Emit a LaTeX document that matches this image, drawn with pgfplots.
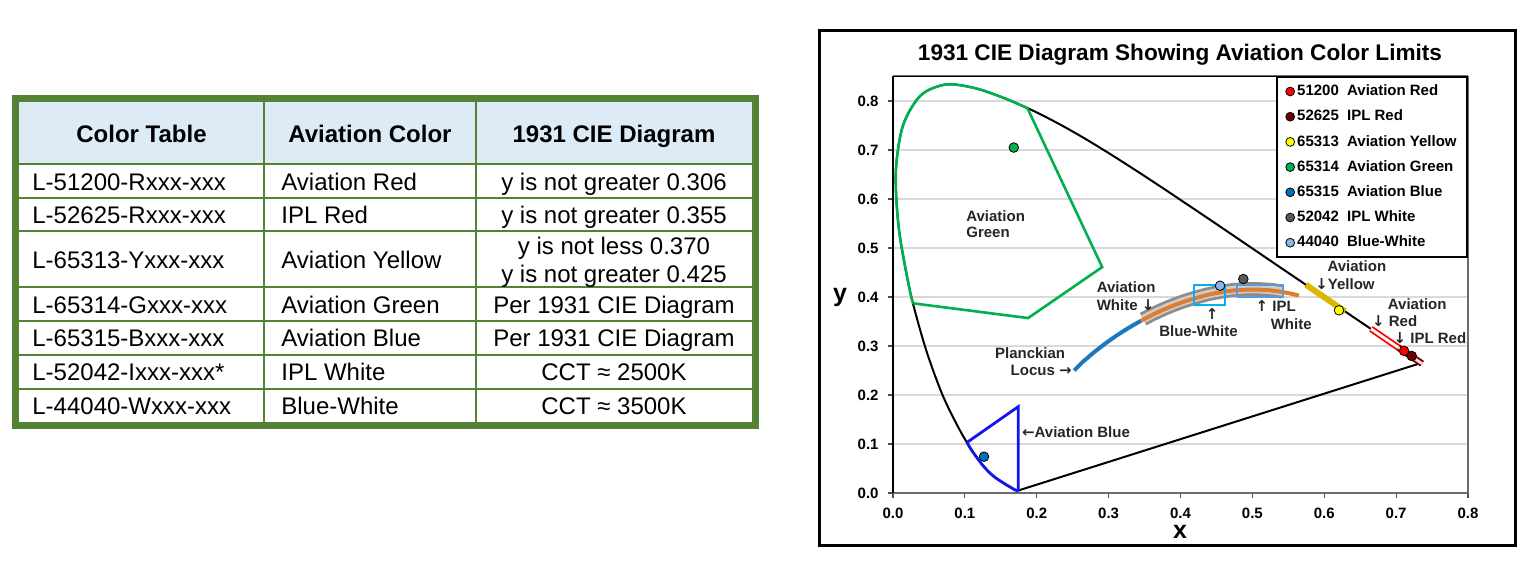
\documentclass[border=0pt]{standalone}
\usepackage{fontspec}
\setmainfont{Liberation Sans}
\newfontfamily\arrowfont{DejaVu Sans}
\usepackage{pgfplots}
\pgfplotsset{compat=1.18}

\definecolor{tblgreen}{RGB}{84,130,53}
\definecolor{hdrblue}{RGB}{221,235,247}
\definecolor{avgreen}{RGB}{0,176,80}
\definecolor{avblue}{RGB}{20,20,240}
\definecolor{plblue}{RGB}{30,120,190}
\definecolor{plorange}{RGB}{222,125,48}
\definecolor{avyellow}{RGB}{218,183,0}
\definecolor{bwcyan}{RGB}{0,176,240}
\definecolor{iplbox}{RGB}{91,155,213}
\definecolor{dotred}{RGB}{255,0,0}
\definecolor{dotiplred}{RGB}{110,0,0}
\definecolor{dotyellow}{RGB}{255,255,0}
\definecolor{dotgreen}{RGB}{0,176,80}
\definecolor{dotblue}{RGB}{0,112,192}
\definecolor{dotiplw}{RGB}{89,89,89}
\definecolor{dotbw}{RGB}{142,180,227}
\definecolor{gridgray}{RGB}{217,217,217}
\definecolor{bandgray}{RGB}{140,140,140}
\definecolor{bandlight}{RGB}{205,205,205}

\newcommand{\annf}{\bfseries\fontsize{7.5}{9}\selectfont}
\newcommand{\ar}[1]{{\arrowfont\bfseries #1}}
\tikzset{ann/.style={font=\annf, inner sep=0pt, text height=5.4pt, text depth=0pt, text=black!85}}

\begin{document}
\begin{tikzpicture}
\useasboundingbox (0pt,0pt) rectangle (767.5pt,283.5pt);

% table, in pixel units of the reference
\begin{scope}[x=0.5pt,y=-0.5pt,shift={(0pt,283.5pt)},font=\fontsize{12}{14}\selectfont]
  \fill[hdrblue] (19,102) rectangle (752,164);
  \foreach \yy in {164,198,231,287,321,355,389}
    \draw[tblgreen,line width=0.9pt] (19,\yy) -- (752,\yy);
  \foreach \xx in {264,476}
    \draw[tblgreen,line width=0.9pt] (\xx,102) -- (\xx,422);
  \draw[tblgreen,line width=3.5pt] (15.5,98.5) rectangle (755.5,425.5);
  \begin{scope}[every node/.style={inner sep=0pt, text height=8.6pt, text depth=0pt}]
    \node[font=\bfseries\fontsize{12}{14}\selectfont] at (141.5,134) {Color Table};
    \node[font=\bfseries\fontsize{12}{14}\selectfont] at (370,134) {Aviation Color};
    \node[font=\bfseries\fontsize{12}{14}\selectfont] at (614,134) {1931 CIE Diagram};
    \node[anchor=west] at (32,181.5) {L-51200-Rxxx-xxx};
    \node[anchor=west] at (281,181.5) {Aviation Red};
    \node at (614,181.5) {y is not greater 0.306};
    \node[anchor=west] at (32,215) {L-52625-Rxxx-xxx};
    \node[anchor=west] at (281,215) {IPL Red};
    \node at (614,215) {y is not greater 0.355};
    \node[anchor=west] at (32,260) {L-65313-Yxxx-xxx};
    \node[anchor=west] at (281,260) {Aviation Yellow};
    \node at (614,246) {y is not less 0.370};
    \node at (614,274) {y is not greater 0.425};
    \node[anchor=west] at (32,305) {L-65314-Gxxx-xxx};
    \node[anchor=west] at (281,305) {Aviation Green};
    \node at (614,305) {Per 1931 CIE Diagram};
    \node[anchor=west] at (32,338) {L-65315-Bxxx-xxx};
    \node[anchor=west] at (281,338) {Aviation Blue};
    \node at (614,338) {Per 1931 CIE Diagram};
    \node[anchor=west] at (32,372) {L-52042-Ixxx-xxx*};
    \node[anchor=west] at (281,372) {IPL White};
    \node at (614,372) {CCT ≈ 2500K};
    \node[anchor=west] at (32,405.5) {L-44040-Wxxx-xxx};
    \node[anchor=west] at (281,405.5) {Blue-White};
    \node at (614,405.5) {CCT ≈ 3500K};
  \end{scope}
\end{scope}

% chart frame, title and axis labels
\draw[line width=1.5pt] (409.75pt,10.75pt) rectangle (757.75pt,268.25pt);
\node[font=\bfseries\fontsize{11.3}{13}\selectfont] at (590pt,256pt) {1931 CIE Diagram Showing Aviation Color Limits};
\node[font=\bfseries\fontsize{12.5}{14}\selectfont] at (590pt,17.5pt) {x};
\node[font=\bfseries\fontsize{12.5}{14}\selectfont] at (420pt,135pt) {y};

\begin{axis}[
  scale only axis, width=287.5pt, height=208.25pt,
  at={(446.5pt,37pt)}, anchor=south west,
  xmin=0, xmax=0.8, ymin=0, ymax=0.85,
  xtick={0,0.1,0.2,0.3,0.4,0.5,0.6,0.7,0.8},
  ytick={0,0.1,0.2,0.3,0.4,0.5,0.6,0.7,0.8},
  ymajorgrids, major grid style={gridgray, line width=0.7pt},
  separate axis lines,
  x axis line style={draw=gray!85!black, line width=1pt},
  y axis line style={draw=black, line width=0.8pt},
  tick align=outside, major tick length=2.5pt,
  xtick pos=left, ytick pos=left,
  tick style={gray!60!black, line width=0.6pt},
  tick label style={font=\bfseries\fontsize{7.5}{9}\selectfont,
    /pgf/number format/fixed, /pgf/number format/fixed zerofill,
    /pgf/number format/precision=1, /pgf/number format/assume math mode=true},
  yticklabel style={xshift=-1.2pt},
  xticklabel style={yshift=-1.5pt},
  clip=false,
  legend style={at={(1,1)}, anchor=north east, draw=black, line width=0.8pt, fill=white,
    font=\bfseries\fontsize{7.5}{8.5}\selectfont, row sep=4.4pt, inner xsep=4.5pt, inner ysep=3pt,
    nodes={inner sep=0.8pt, text height=5.4pt, text depth=1.2pt}, column sep=0.5pt},
  legend cell align=left,
  legend image code/.code={\draw[#1, mark size=2.2pt, line width=0.4pt] plot coordinates {(0.07cm,0cm)};},
]
% top and right edges of the plot area
\draw[black, line width=0.8pt] (rel axis cs:0,1) -- (rel axis cs:1,1);
\draw[gray!85!black, line width=1pt] (rel axis cs:1,0) -- (rel axis cs:1,1);

% spectral locus
\addplot[black, line width=1pt, smooth, forget plot] coordinates {
(0.1741,0.0050) (0.1689,0.0069) (0.1644,0.0109) (0.1566,0.0177) (0.1440,0.0297)
(0.1355,0.0399) (0.1241,0.0578) (0.1096,0.0868) (0.0913,0.1327) (0.0687,0.2007)
(0.0454,0.2950) (0.0235,0.4127) (0.0082,0.5384) (0.0039,0.6548) (0.0139,0.7502)
(0.0389,0.8120) (0.0743,0.8338) (0.1142,0.8262) (0.1547,0.8059) (0.1929,0.7816)
(0.2296,0.7543) (0.2658,0.7243) (0.3016,0.6923) (0.3373,0.6589) (0.3731,0.6245)
(0.4087,0.5896) (0.4441,0.5547) (0.4788,0.5202) (0.5125,0.4866) (0.5448,0.4544)
(0.5752,0.4242) (0.6029,0.3965) (0.6270,0.3725) (0.6482,0.3514) (0.6658,0.3340)
(0.6915,0.3083) (0.7079,0.2920) (0.7190,0.2809) (0.7260,0.2740) (0.7347,0.2653)};
\addplot[black, line width=1pt, forget plot] coordinates {(0.7347,0.2653) (0.1741,0.0050)};

% aviation green
\addplot[avgreen, line width=1.3pt, forget plot] coordinates {
(0.0283,0.387) (0.188,0.357) (0.291,0.461) (0.187,0.7854)};
\addplot[avgreen, line width=1.3pt, smooth, forget plot] coordinates {
(0.187,0.7854) (0.1547,0.8059) (0.1142,0.8262) (0.0743,0.8338) (0.0389,0.8120)
(0.0139,0.7502) (0.0039,0.6548) (0.0082,0.5384) (0.0235,0.4127) (0.0283,0.387)};

% aviation blue
\addplot[avblue, line width=1.4pt, forget plot] coordinates {
(0.1030,0.1033) (0.1741,0.176) (0.1741,0.003)};
\addplot[avblue, line width=1.4pt, smooth, forget plot] coordinates {
(0.1741,0.0040) (0.1689,0.0069) (0.1644,0.0109) (0.1566,0.0177) (0.1440,0.0297)
(0.1355,0.0399) (0.1241,0.0578) (0.1096,0.0868) (0.1030,0.1033)};

% aviation white band
\addplot[bandgray, line width=7pt, smooth, forget plot] coordinates {
(0.348,0.3548) (0.3608,0.3646) (0.3805,0.3778) (0.4053,0.3917) (0.4369,0.4051)
(0.4599,0.4116) (0.4770,0.4147) (0.5018,0.4163) (0.5267,0.4143) (0.542,0.4108)};
\addplot[bandlight, line width=4.2pt, smooth, forget plot] coordinates {
(0.348,0.3548) (0.3608,0.3646) (0.3805,0.3778) (0.4053,0.3917) (0.4369,0.4051)
(0.4599,0.4116) (0.4770,0.4147) (0.5018,0.4163) (0.5267,0.4143) (0.542,0.4108)};

% planckian locus
\addplot[plblue, line width=2pt, smooth, forget plot] coordinates {
(0.252,0.250) (0.2637,0.2671) (0.2715,0.2770) (0.2807,0.2884) (0.2952,0.3048)
(0.3064,0.3166) (0.3135,0.3236) (0.3221,0.3318) (0.3324,0.3410) (0.3451,0.3516)};
\addplot[plorange, line width=2pt, smooth, forget plot] coordinates {
(0.3451,0.3516) (0.3608,0.3636) (0.3805,0.3768) (0.4053,0.3907) (0.4369,0.4041)
(0.4599,0.4106) (0.4770,0.4137) (0.5018,0.4153) (0.5267,0.4133) (0.5494,0.4081)
(0.5646,0.4029)};

% blue-white and IPL white boxes
\addplot[bwcyan, line width=1.2pt, forget plot] coordinates {
(0.419,0.384) (0.462,0.384) (0.462,0.425) (0.419,0.425) (0.419,0.384)};
\addplot[iplbox, line width=1pt, forget plot] coordinates {
(0.478,0.400) (0.542,0.400) (0.542,0.425) (0.478,0.425) (0.478,0.400)};

% aviation yellow and red along the locus
\addplot[avyellow, line width=3pt, forget plot] coordinates {
(0.5745,0.4250) (0.6029,0.3965) (0.6290,0.3705)};
\addplot[red, line width=3.2pt, forget plot] coordinates {
(0.6650,0.3350) (0.6915,0.3083) (0.7079,0.2920) (0.7190,0.2809) (0.7260,0.2740) (0.7360,0.2640)};
\addplot[white, line width=1.4pt, forget plot] coordinates {
(0.6650,0.3350) (0.6915,0.3083) (0.7079,0.2920) (0.7190,0.2809) (0.7260,0.2740) (0.7360,0.2640)};
\addplot[dotiplred, line width=3.2pt, forget plot] coordinates {
(0.7030,0.2969) (0.7190,0.2809) (0.7260,0.2740) (0.7360,0.2640)};
\addplot[white!85!red, line width=1.4pt, forget plot] coordinates {
(0.7030,0.2969) (0.7190,0.2809) (0.7260,0.2740) (0.7360,0.2640)};

% annotations
\node[ann, anchor=west] at (axis cs:0.1015,0.565) {Aviation};
\node[ann, anchor=west] at (axis cs:0.1015,0.532) {Green};
\node[ann, anchor=west] at (axis cs:0.283,0.4195) {Aviation};
\node[ann, anchor=west] at (axis cs:0.283,0.383) {White \ar{↓}};
\node[ann] at (axis cs:0.444,0.366) {\ar{↑}};
\node[ann] at (axis cs:0.425,0.3295) {Blue-White};
\node[ann, anchor=west] at (axis cs:0.504,0.381) {\ar{↑} IPL};
\node[ann, anchor=west] at (axis cs:0.525,0.345) {White};
\node[ann, anchor=east] at (axis cs:0.240,0.285) {Planckian};
\node[ann, anchor=east] at (axis cs:0.249,0.251) {Locus \ar{→}};
\node[ann, anchor=west] at (axis cs:0.604,0.4625) {Aviation};
\node[ann, anchor=west] at (axis cs:0.587,0.426) {\ar{↓}Yellow};
\node[ann, anchor=west] at (axis cs:0.688,0.385) {Aviation};
\node[ann, anchor=west] at (axis cs:0.666,0.350) {\ar{↓} Red};
\node[ann, anchor=west] at (axis cs:0.696,0.316) {\ar{↓} IPL Red};
\node[ann, anchor=west] at (axis cs:0.179,0.125) {\ar{←}Aviation Blue};

% colour points
\addplot[mark=*, mark size=2.4pt, mark options={draw=black, fill=dotred}] coordinates {(0.711,0.290)};
\addlegendentry{51200\hspace{0.55em}Aviation Red}
\addplot[mark=*, mark size=2.4pt, mark options={draw=black, fill=dotiplred}] coordinates {(0.7217,0.2796)};
\addlegendentry{52625\hspace{0.55em}IPL Red}
\addplot[mark=*, mark size=2.4pt, mark options={draw=black, fill=dotyellow}] coordinates {(0.6205,0.3728)};
\addlegendentry{65313\hspace{0.55em}Aviation Yellow}
\addplot[mark=*, mark size=2.4pt, mark options={draw=black, fill=dotgreen}] coordinates {(0.168,0.705)};
\addlegendentry{65314\hspace{0.55em}Aviation Green}
\addplot[mark=*, mark size=2.4pt, mark options={draw=black, fill=dotblue}] coordinates {(0.1266,0.0741)};
\addlegendentry{65315\hspace{0.55em}Aviation Blue}
\addplot[mark=*, mark size=2.4pt, mark options={draw=black, fill=dotiplw}] coordinates {(0.4874,0.4367)};
\addlegendentry{52042\hspace{0.55em}IPL White}
\addplot[mark=*, mark size=2.4pt, mark options={draw=black, fill=dotbw}] coordinates {(0.455,0.423)};
\addlegendentry{44040\hspace{0.55em}Blue-White}
\end{axis}
\end{tikzpicture}
\end{document}
